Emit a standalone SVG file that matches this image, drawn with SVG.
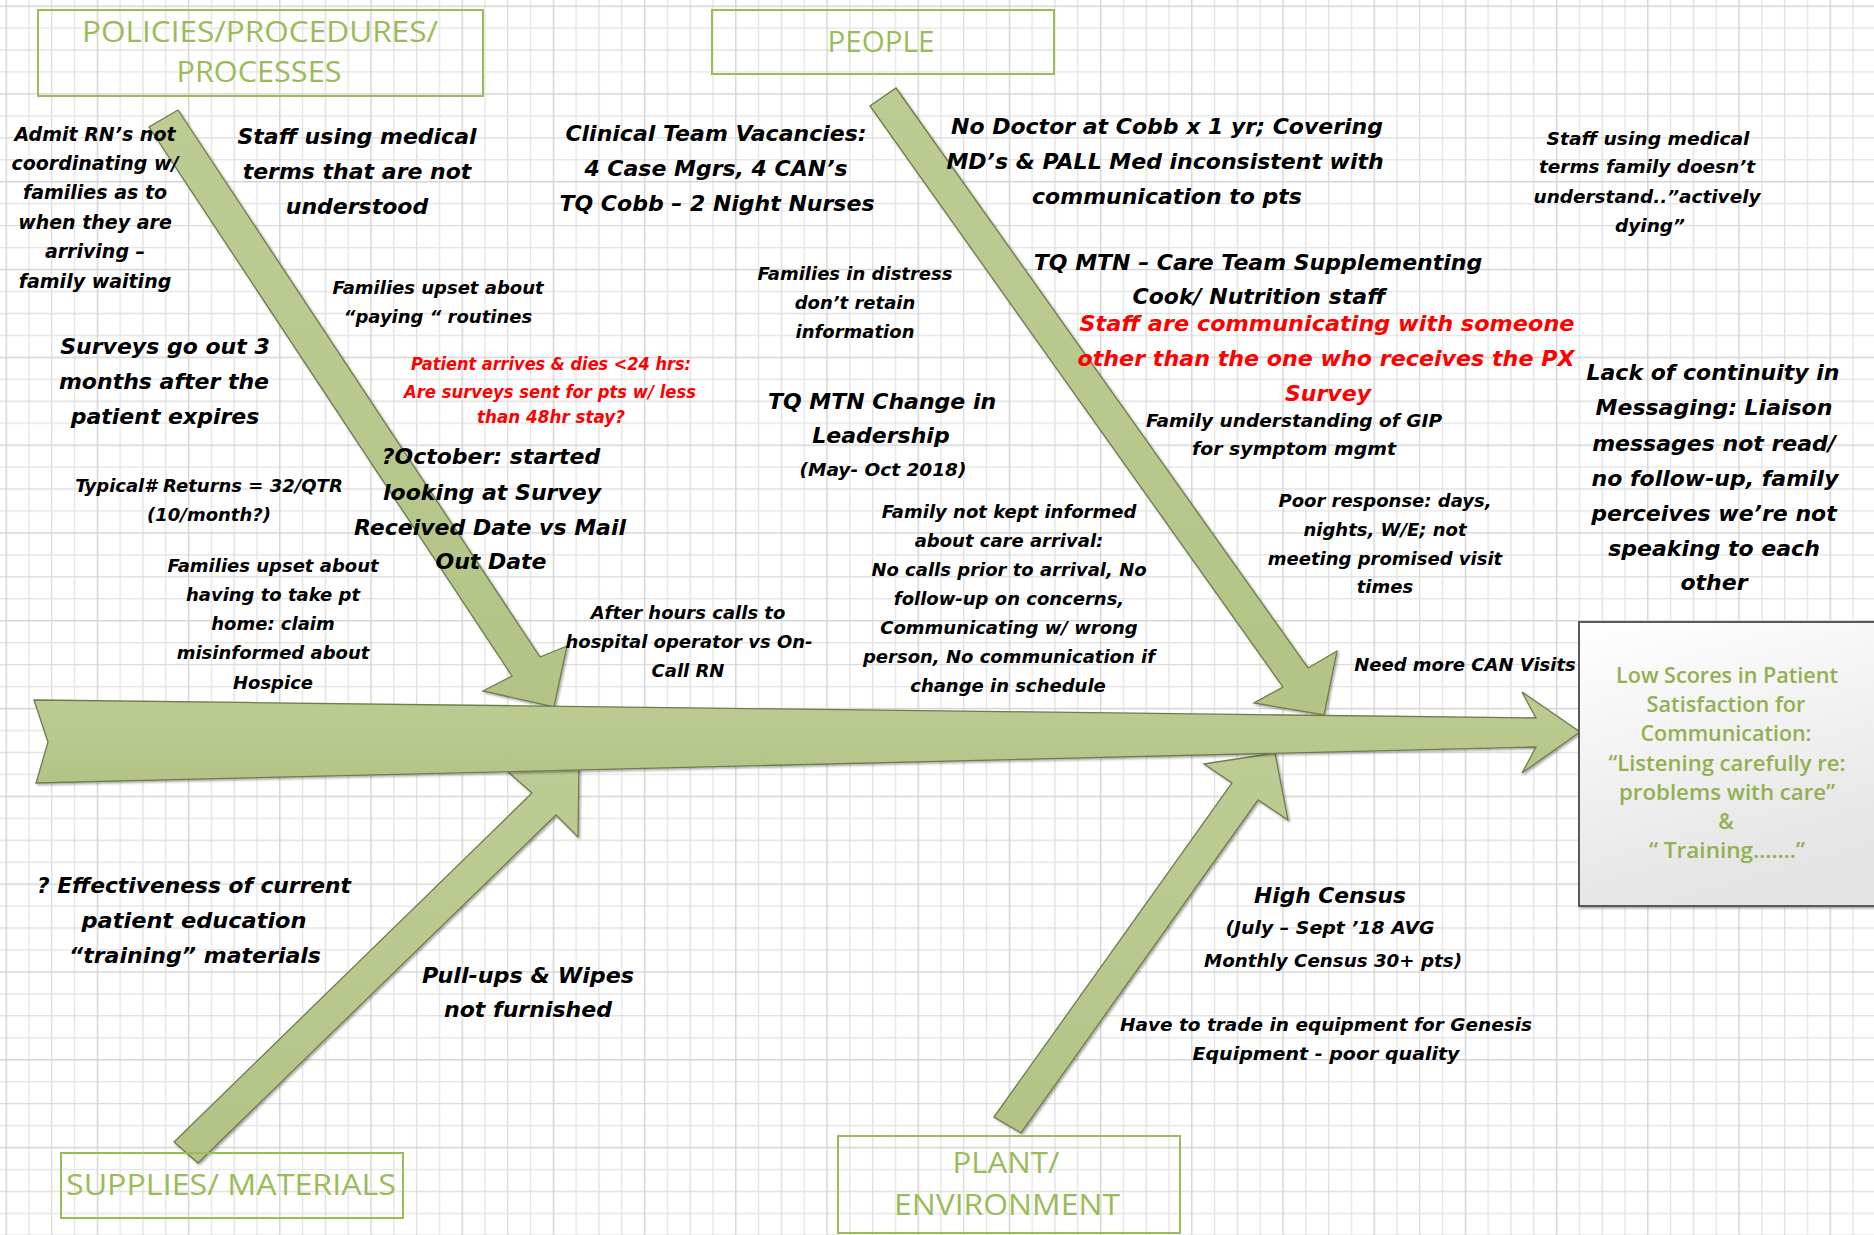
<svg xmlns="http://www.w3.org/2000/svg" width="1874" height="1235" viewBox="0 0 1874 1235">
<defs>
<style>
.t{font-family:"DejaVu Sans","Liberation Sans",sans-serif;font-weight:bold;font-style:italic;fill:#000;text-anchor:middle}
.s18{font-size:18px}.s19{font-size:19px}.s22{font-size:22px}
.red{fill:#FF0000}
.lbl{font-family:"Open Sans","Liberation Sans",sans-serif;fill:#9BBB59;text-anchor:middle;font-size:30px}
.eff{font-family:"Open Sans","Liberation Sans",sans-serif;font-weight:600;fill:#92B050;text-anchor:middle;font-size:21px}
.cat{fill:none;stroke:#9BBB59;stroke-width:2}
.arr{fill:url(#ag);stroke:#6E7D4C;stroke-width:1.3;stroke-linejoin:miter;filter:url(#sh)}
</style>
<pattern id="grid" x="5.5" y="5.45" width="91.2" height="87.8" patternUnits="userSpaceOnUse">
<rect x="0" y="0" width="91.2" height="87.8" fill="#ffffff"/>
<rect x="22.8" y="0" width="1.3" height="87.8" fill="#e4e4e4"/>
<rect x="45.6" y="0" width="1.3" height="87.8" fill="#dddddd"/>
<rect x="68.4" y="0" width="1.3" height="87.8" fill="#e4e4e4"/>
<rect x="0" y="21.95" width="91.2" height="1.3" fill="#e4e4e4"/>
<rect x="0" y="43.9" width="91.2" height="1.3" fill="#dddddd"/>
<rect x="0" y="65.85" width="91.2" height="1.3" fill="#e4e4e4"/>
<rect x="0" y="0" width="1.4" height="87.8" fill="#d3d3d3"/>
<rect x="0" y="0" width="91.2" height="1.4" fill="#d3d3d3"/>
</pattern>
<linearGradient id="ag" x1="0" y1="0" x2="0" y2="1">
<stop offset="0" stop-color="#BCCB92"/>
<stop offset="0.5" stop-color="#B9C98E"/>
<stop offset="1" stop-color="#B2C385"/>
</linearGradient>
<linearGradient id="eg" x1="0" y1="0" x2="0.3" y2="1">
<stop offset="0" stop-color="#FFFFFF"/>
<stop offset="1" stop-color="#E4E4E4"/>
</linearGradient>
<filter id="sh" x="-5%" y="-5%" width="112%" height="112%">
<feDropShadow dx="1.5" dy="1.5" stdDeviation="1.2" flood-color="#000" flood-opacity="0.35"/>
</filter>
</defs>

<rect x="0" y="0" width="1874" height="1235" fill="url(#grid)"/>

<g id="connectors">
<polygon class="arr" points="178,110 540,657 567,646 554,707 483,691 512,676 149,127"/>
<polygon class="arr" points="896,88 1308,668 1337,651 1324,715 1254,703 1283,687 870,106"/>
<polygon class="arr" points="174,1142 532,793 507,771 579,764 578,837 556,815 198,1163"/>
<polygon class="arr" points="994,1117 1232,783 1204,764 1275,753 1288,820 1258,800 1021,1133"/>
<polygon class="arr" points="34,700 1536,718 1522,692 1580,732 1522,773 1536,747 36,783 48,742"/>
</g>

<g id="cat-policies">
<rect class="cat" x="38" y="10" width="445" height="86"/>
<text class="lbl" x="260" y="42" textLength="356" lengthAdjust="spacingAndGlyphs">POLICIES/PROCEDURES/</text>
<text class="lbl" x="259" y="82" textLength="165" lengthAdjust="spacingAndGlyphs">PROCESSES</text>
</g>
<g id="cat-people">
<rect class="cat" x="712" y="10" width="342" height="64"/>
<text class="lbl" x="881" y="52" textLength="107" lengthAdjust="spacingAndGlyphs">PEOPLE</text>
</g>
<g id="cat-supplies">
<rect class="cat" x="61" y="1153" width="342" height="65"/>
<text class="lbl" x="231" y="1195" textLength="330" lengthAdjust="spacingAndGlyphs">SUPPLIES/ MATERIALS</text>
</g>
<g id="cat-plant">
<rect class="cat" x="838" y="1136" width="342" height="97"/>
<text class="lbl" x="1006" y="1173" textLength="107" lengthAdjust="spacingAndGlyphs">PLANT/</text>
<text class="lbl" x="1007" y="1215" textLength="226" lengthAdjust="spacingAndGlyphs">ENVIRONMENT</text>
</g>
<g id="effect">
<rect x="1579" y="622" width="300" height="284" fill="url(#eg)" stroke="#5A5A5A" stroke-width="2" filter="url(#sh)"/>
<text class="eff" x="1727" y="683" textLength="222" lengthAdjust="spacingAndGlyphs">Low Scores in Patient</text>
<text class="eff" x="1726" y="712" textLength="159" lengthAdjust="spacingAndGlyphs">Satisfaction for</text>
<text class="eff" x="1726" y="741" textLength="171" lengthAdjust="spacingAndGlyphs">Communication:</text>
<text class="eff" x="1727" y="771" textLength="237" lengthAdjust="spacingAndGlyphs">“Listening carefully re:</text>
<text class="eff" x="1727" y="800" textLength="216" lengthAdjust="spacingAndGlyphs">problems with care”</text>
<text class="eff" x="1726" y="829">&amp;</text>
<text class="eff" x="1727" y="858" textLength="156" lengthAdjust="spacingAndGlyphs">“ Training…….”</text>
</g>

<g id="cause-admit" class="t s19">
<text x="95" y="141">Admit RN’s not</text>
<text x="95" y="170">coordinating w/</text>
<text x="95" y="199">families as to</text>
<text x="95" y="229">when they are</text>
<text x="95" y="258">arriving –</text>
<text x="95" y="288">family waiting</text>
</g>
<g id="cause-staff-terms" class="t s22">
<text x="357" y="144">Staff using medical</text>
<text x="357" y="179">terms that are not</text>
<text x="357" y="214">understood</text>
</g>
<g id="cause-vacancies" class="t s22">
<text x="716" y="141">Clinical Team  Vacancies:</text>
<text x="716" y="176">4 Case Mgrs, 4 CAN’s</text>
<text x="717" y="211">TQ Cobb – 2 Night Nurses</text>
</g>
<g id="cause-doctor" class="t s22">
<text x="1167" y="134">No Doctor at Cobb x 1 yr; Covering</text>
<text x="1165" y="169">MD’s &amp; PALL Med inconsistent with</text>
<text x="1167" y="204">communication to pts</text>
</g>
<g id="cause-staff-family" class="t" style="font-size:18.5px">
<text x="1648" y="145" textLength="203" lengthAdjust="spacingAndGlyphs">Staff using medical</text>
<text x="1647" y="173" textLength="216" lengthAdjust="spacingAndGlyphs">terms family doesn’t</text>
<text x="1647" y="203" textLength="227" lengthAdjust="spacingAndGlyphs">understand..”actively</text>
<text x="1650" y="232">dying”</text>
</g>
<g id="cause-paying" class="t s18">
<text x="438" y="294">Families upset about</text>
<text x="438" y="323">“paying “ routines</text>
</g>
<g id="cause-dies" class="t red" style="font-size:17px">
<text x="551" y="370" textLength="280" lengthAdjust="spacingAndGlyphs">Patient arrives &amp; dies &lt;24 hrs:</text>
<text x="550" y="398" textLength="292" lengthAdjust="spacingAndGlyphs">Are surveys sent for pts w/ less</text>
<text x="551" y="423" textLength="148" lengthAdjust="spacingAndGlyphs">than 48hr stay?</text>
</g>
<g id="cause-surveys" class="t s22">
<text x="165" y="354">Surveys go out 3</text>
<text x="164" y="389">months after the</text>
<text x="165" y="424">patient expires</text>
</g>
<g id="cause-returns" class="t s18">
<text x="209" y="492">Typical# Returns = 32/QTR</text>
<text x="209" y="521">(10/month?)</text>
</g>
<g id="cause-october" class="t s22">
<text x="491" y="464">?October:  started</text>
<text x="492" y="500">looking at Survey</text>
<text x="490" y="535">Received Date vs Mail</text>
<text x="491" y="569">Out Date</text>
</g>
<g id="cause-home" class="t s18">
<text x="273" y="572">Families upset about</text>
<text x="273" y="601">having to take pt</text>
<text x="273" y="630">home: claim</text>
<text x="273" y="659">misinformed about</text>
<text x="273" y="689">Hospice</text>
</g>
<g id="cause-distress" class="t s18">
<text x="855" y="280">Families in distress</text>
<text x="855" y="309">don’t retain</text>
<text x="855" y="338">information</text>
</g>
<g id="cause-leadership">
<text class="t s22" x="882" y="409">TQ MTN Change in</text>
<text class="t s22" x="881" y="443">Leadership</text>
<text class="t" style="font-size:18.5px" x="883" y="476">(May- Oct 2018)</text>
</g>
<g id="cause-cook" class="t s22">
<text x="1258" y="270">TQ MTN – Care Team Supplementing</text>
<text x="1259" y="304">Cook/ Nutrition  staff</text>
</g>
<g id="cause-someone" class="t red s22">
<text x="1327" y="331" textLength="495" lengthAdjust="spacingAndGlyphs">Staff are communicating with someone</text>
<text x="1326" y="366" textLength="497" lengthAdjust="spacingAndGlyphs">other than the one who receives the PX</text>
<text x="1328" y="401" textLength="86" lengthAdjust="spacingAndGlyphs">Survey</text>
</g>
<g id="cause-gip" class="t s18">
<text x="1294" y="427" textLength="296" lengthAdjust="spacingAndGlyphs">Family understanding of GIP</text>
<text x="1294" y="455" textLength="204" lengthAdjust="spacingAndGlyphs">for symptom mgmt</text>
</g>
<g id="cause-informed" class="t s18">
<text x="1009" y="518">Family not kept informed</text>
<text x="1009" y="547">about care arrival:</text>
<text x="1009" y="576">No calls prior to arrival, No</text>
<text x="1009" y="605">follow-up on concerns,</text>
<text x="1009" y="634">Communicating w/ wrong</text>
<text x="1009" y="663">person, No communication if</text>
<text x="1008" y="692">change in schedule</text>
</g>
<g id="cause-response" class="t s18">
<text x="1385" y="507">Poor response: days,</text>
<text x="1385" y="536">nights, W/E; not</text>
<text x="1385" y="565">meeting promised visit</text>
<text x="1385" y="593">times</text>
</g>
<g id="cause-continuity" class="t s22">
<text x="1713" y="380">Lack of continuity in</text>
<text x="1714" y="415">Messaging:  Liaison</text>
<text x="1714" y="451">messages not read/</text>
<text x="1715" y="486">no follow-up, family</text>
<text x="1714" y="521">perceives we’re not</text>
<text x="1714" y="556">speaking to each</text>
<text x="1714" y="590">other</text>
</g>
<g id="cause-can" class="t s18">
<text x="1465" y="671">Need more CAN Visits</text>
</g>
<g id="cause-afterhours" class="t s18">
<text x="688" y="619">After hours calls to</text>
<text x="689" y="648">hospital operator vs On-</text>
<text x="688" y="677">Call RN</text>
</g>
<g id="cause-education" class="t" style="font-size:21.5px">
<text x="194" y="893" textLength="314" lengthAdjust="spacingAndGlyphs">? Effectiveness of current</text>
<text x="194" y="928" textLength="225" lengthAdjust="spacingAndGlyphs">patient education</text>
<text x="195" y="963" textLength="252" lengthAdjust="spacingAndGlyphs">“training” materials</text>
</g>
<g id="cause-pullups" class="t s22">
<text x="528" y="983" textLength="212" lengthAdjust="spacingAndGlyphs">Pull-ups &amp; Wipes</text>
<text x="528" y="1017" textLength="168" lengthAdjust="spacingAndGlyphs">not furnished</text>
</g>
<g id="cause-census">
<text class="t s22" x="1330" y="903" textLength="152" lengthAdjust="spacingAndGlyphs">High Census</text>
<text class="t s18" x="1330" y="934" textLength="209" lengthAdjust="spacingAndGlyphs">(July – Sept ’18 AVG</text>
<text class="t s18" x="1333" y="967" textLength="258" lengthAdjust="spacingAndGlyphs">Monthly Census 30+  pts)</text>
</g>
<g id="cause-equipment" class="t s18">
<text x="1326" y="1031" textLength="412" lengthAdjust="spacingAndGlyphs">Have to trade in equipment for Genesis</text>
<text x="1326" y="1060" textLength="267" lengthAdjust="spacingAndGlyphs">Equipment  - poor quality</text>
</g>
</svg>
